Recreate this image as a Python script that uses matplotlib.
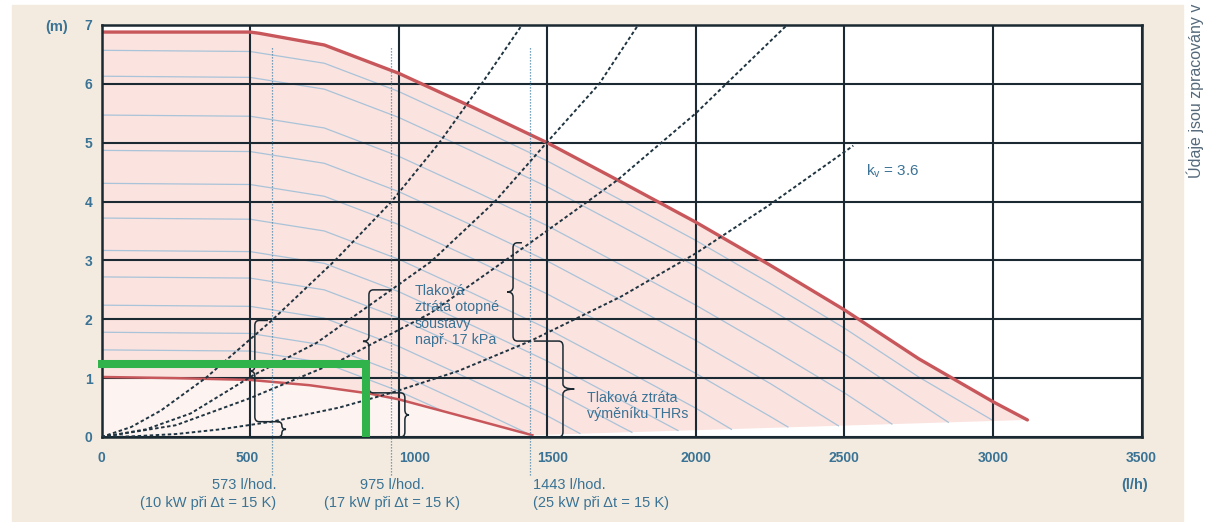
import numpy as np
import matplotlib.pyplot as plt
from matplotlib.patches import Rectangle, PathPatch
from matplotlib.path import Path
from matplotlib.transforms import ScaledTranslation

plt.rcParams['font.family'] = ['Liberation Sans', 'DejaVu Sans']

# pump curves at max and min speed (flow l/h, head m)
q_max = [0, 500, 530, 750, 1000, 1250, 1500, 1750, 2000, 2250, 2500, 2750, 3000, 3116]
h_max = [6.88, 6.88, 6.86, 6.66, 6.18, 5.60, 5.00, 4.33, 3.65, 2.92, 2.16, 1.33, 0.60, 0.29]
q_min = [0, 250, 500, 700, 900, 1000, 1200, 1450]
h_min = [1.02, 1.00, 0.97, 0.88, 0.74, 0.64, 0.37, 0.03]
# lower edge of the working range
q_edge = [1450, 3116]
h_edge = [0.03, 0.29]

# intermediate speed curves
q_grid = [0, 500, 750, 1000, 1250, 1500, 1750, 2000, 2250, 2500, 2750]
speed_curves = [
    (q_grid + [3000], [6.57, 6.55, 6.35, 5.87, 5.29, 4.69, 4.02, 3.34, 2.61, 1.85, 1.02, 0.28]),
    (q_grid + [2850], [6.13, 6.11, 5.91, 5.43, 4.85, 4.25, 3.58, 2.90, 2.17, 1.41, 0.58, 0.25]),
    (q_grid[:10] + [2660], [5.47, 5.45, 5.25, 4.77, 4.19, 3.59, 2.92, 2.24, 1.51, 0.75, 0.22]),
    (q_grid[:9] + [2480], [4.87, 4.85, 4.65, 4.17, 3.59, 2.99, 2.32, 1.64, 0.91, 0.19]),
    (q_grid[:9] + [2310], [4.31, 4.29, 4.09, 3.61, 3.03, 2.43, 1.76, 1.08, 0.35, 0.17]),
    (q_grid[:8] + [2120], [3.72, 3.70, 3.50, 3.02, 2.44, 1.84, 1.17, 0.49, 0.13]),
    (q_grid[:7] + [1940], [3.17, 3.15, 2.95, 2.47, 1.89, 1.29, 0.62, 0.11]),
    (q_grid[:7] + [1785], [2.72, 2.70, 2.50, 2.02, 1.44, 0.84, 0.17, 0.08]),
    (q_grid[:6] + [1610], [2.24, 2.22, 2.02, 1.54, 0.96, 0.36, 0.06]),
    (q_grid[:5] + [1430], [1.78, 1.76, 1.56, 1.08, 0.50, 0.07]),
    (q_grid[:4] + [1150], [1.48, 1.46, 1.26, 0.78, 0.44]),
]

# system curves (heating circuit + exchanger)
q_a = [0, 100, 200, 350, 573, 786, 976, 1137, 1279, 1415]
h_a = [0, 0.17, 0.45, 1.00, 1.98, 3.00, 4.00, 5.00, 6.00, 7.00]
q_b = [0, 150, 300, 511, 724, 975, 1109, 1324, 1498, 1675, 1806]
h_b = [0, 0.13, 0.40, 1.05, 1.60, 2.50, 2.98, 4.00, 5.00, 6.00, 7.00]
q_c = [0, 250, 500, 800, 1106, 1443, 1735, 2000, 2307]
h_c = [0, 0.20, 0.66, 1.29, 2.10, 3.30, 4.36, 5.50, 7.00]
# exchanger THRs, kv = 3.6
q_kv = [0, 100, 250, 400, 573, 800, 975, 1200, 1443, 1750, 2000, 2250, 2530]
h_kv = [0, 0.01, 0.05, 0.13, 0.26, 0.50, 0.75, 1.12, 1.63, 2.39, 3.12, 3.95, 4.95]

flows = [573, 975, 1443]
flow_text = ['573 l/hod.', '975 l/hod.', '1443 l/hod.']
power_text = ['(10 kW při Δt = 15 K)', '(17 kW při Δt = 15 K)', '(25 kW při Δt = 15 K)']

# operating point
op_q, op_h = 891, 1.24

ink = '#1b2a32'
label_col = '#3a7395'

fig = plt.figure(figsize=(12.06, 5.22), dpi=100)
fig.patches.append(Rectangle((12 / 1206, 0), 1171 / 1206, 517 / 522,
                             transform=fig.transFigure, color='#f3ebdf', zorder=-10))
ax = fig.add_axes([101.5 / 1206, 85 / 522, 1040 / 1206, 412 / 522])
ax.set_facecolor('white')

# working range fill
upper = list(zip(q_max, h_max))
edge = list(zip(q_edge, h_edge))[::-1]
lower = list(zip(q_min, h_min))[::-1]
poly = np.array(upper + edge[1:] + lower[1:])
ax.fill(poly[:, 0], poly[:, 1], color='#fbe3e0', lw=0, zorder=0.5)
below = np.array(list(zip(q_min, h_min)) + [(q_min[-1], 0), (0, 0)])
ax.fill(below[:, 0], below[:, 1], color='#fdf3f1', lw=0, zorder=0.5)

for q, h in speed_curves:
    ax.plot(q, h, color='#a9c3d8', lw=0.9, zorder=1.2)

ax.plot(q_max, h_max, color='#c8575b', lw=2.4, zorder=2, solid_capstyle='round')
ax.plot(q_min, h_min, color='#c8575b', lw=1.8, zorder=2)

for q, h in [(q_a, h_a), (q_b, h_b), (q_c, h_c), (q_kv, h_kv)]:
    ax.plot(q, h, color='#1f3440', lw=1.4, ls=(0, (1.8, 1.3)), zorder=3)

for i, f in enumerate(flows):
    ax.plot([f, f], [-0.65, 6.62], color='#4d86aa', lw=0.9, ls=(0, (1, 1.4)),
            clip_on=False, zorder=2.5)
    ha = ['right', 'center', 'left'][i]
    xt = [f + 16, f + 2, f + 8][i]
    ax.text(xt, -0.82, flow_text[i], ha=ha, va='center', fontsize=10.5,
            color=label_col, clip_on=False)
    ax.text(xt, -1.12, power_text[i], ha=ha, va='center', fontsize=10.5,
            color=label_col, clip_on=False)


def brace(x, y_top, y_bot, top_end, bot_end, tip):
    rx = 15
    ry = min(0.085, (y_top - y_bot) / 4)
    s = np.sign(top_end - x)
    ym = (y_top + y_bot) / 2
    verts = [(top_end, y_top), (x + s * rx, y_top),
             (x, y_top), (x, y_top - ry),
             (x, ym + ry),
             (x, ym), (x + tip, ym),
             (x, ym), (x, ym - ry),
             (x, y_bot + ry),
             (x, y_bot), (x + s * rx, y_bot),
             (bot_end, y_bot)]
    codes = [Path.MOVETO, Path.LINETO, Path.CURVE3, Path.CURVE3, Path.LINETO,
             Path.CURVE3, Path.CURVE3, Path.CURVE3, Path.CURVE3, Path.LINETO,
             Path.CURVE3, Path.CURVE3, Path.LINETO]
    ax.add_patch(PathPatch(Path(verts, codes), fc='none', ec=ink, lw=1.1, zorder=4))


tops = [np.interp(flows[0], q_a, h_a), np.interp(flows[1], q_b, h_b),
        np.interp(flows[2], q_c, h_c)]
mids = [np.interp(f, q_kv, h_kv) for f in flows]
brace(516, tops[0], mids[0], 560, 600, -17)
brace(607, mids[0], 0, 590, 585, 14)
brace(900, tops[1], mids[1], 975, 975, -20)
brace(1021, mids[1], 0, 975, 978, 14)
brace(1385, tops[2], mids[2], 1415, 1443, -20)
brace(1553, mids[2], 0, 1455, 1443, 38)

ax.text(1055, 2.6, 'Tlaková\nztráta otopné\nsoustavy\nnapř. 17 kPa', ha='left', va='top',
        fontsize=10.3, color=label_col, linespacing=1.22, zorder=5)
ax.text(1634, 0.53, 'Tlaková ztráta\nvýměníku THRs', ha='left', va='center',
        fontsize=10.3, color=label_col, linespacing=1.15, zorder=5)
ax.text(2572, 4.52, r'k$_\mathregular{v}$ = 3.6', ha='left', va='center',
        fontsize=11, color=label_col, zorder=5)

ax.plot([-12, op_q, op_q], [op_h, op_h, 0], color='#2fb34a', lw=5.8,
        solid_joinstyle='miter', solid_capstyle='butt', clip_on=False, zorder=6)

ax.set_xlim(0, 3500)
ax.set_ylim(0, 7)
ax.set_xticks(range(0, 3501, 500))
ax.set_yticks(range(0, 8))
ax.grid(True, color=ink, lw=1.5)
for sp in ax.spines.values():
    sp.set_color(ink)
    sp.set_linewidth(1.8)
ax.tick_params(length=0, labelsize=10, labelcolor=label_col)
ax.tick_params(axis='x', pad=10)
ax.tick_params(axis='y', pad=6.5)
for lbl in ax.get_xticklabels() + ax.get_yticklabels():
    lbl.set_fontweight('bold')
# the 1000 and 1500 labels sit a little right of their gridlines
xlabels = ax.get_xticklabels()
for idx, dx in [(1, -3), (2, 16), (3, 5)]:
    xlabels[idx].set_transform(xlabels[idx].get_transform() +
                               ScaledTranslation(dx / 100, 0, fig.dpi_scale_trans))

fig.text(57 / 1206, 1 - 27 / 522, '(m)', ha='center', va='center', fontsize=10.5,
         fontweight='bold', color=label_col)
fig.text(1135 / 1206, 1 - 485 / 522, '(l/h)', ha='center', va='center', fontsize=10.5,
         fontweight='bold', color=label_col)
fig.text(1195 / 1206, 1 - 178 / 522, 'Údaje jsou zpracovány v', rotation=90,
         ha='center', va='bottom', fontsize=11.5, color='#55697a')

fig.savefig('out.png', dpi=100)
